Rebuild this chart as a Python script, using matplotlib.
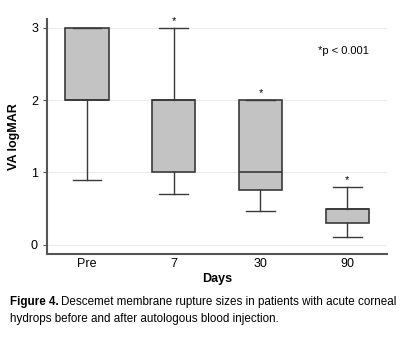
import matplotlib
matplotlib.use("Agg")
import matplotlib.pyplot as plt

plt.rcParams["font.family"] = ["Liberation Sans", "DejaVu Sans"]

# Valores (logMAR)
days = ["Pre", "7", "30", "90"]
q1 = [2.0, 1.0, 0.75, 0.3]
med = [2.0, 2.0, 1.0, 0.5]
q3 = [3.0, 2.0, 2.0, 0.5]
whislo = [0.9, 0.7, 0.46, 0.1]
whishi = [3.0, 3.0, 2.0, 0.8]
signif = [False, True, True, True]

stats = []
for i in range(len(days)):
    stats.append(dict(label=days[i], q1=q1[i], med=med[i], q3=q3[i],
                      whislo=whislo[i], whishi=whishi[i], fliers=[]))

fig = plt.figure(figsize=(4.05, 3.38), dpi=100)
ax = fig.add_axes([0.116, 0.2485, 0.840, 0.6955])

dark = "#3a3a3a"
ax.bxp(stats, positions=range(1, 5), widths=0.5, patch_artist=True,
       showfliers=False,
       boxprops=dict(facecolor="#c3c3c3", edgecolor=dark, linewidth=1.2),
       medianprops=dict(color=dark, linewidth=1.2),
       whiskerprops=dict(color=dark, linewidth=1.0),
       capprops=dict(color=dark, linewidth=1.0),
       capwidths=0.33)

# asteriscos sobre los bigotes
for i in range(len(days)):
    if signif[i]:
        ax.text(i + 1, whishi[i] + 0.03, "*", ha="center", va="bottom", fontsize=8)

ax.text(0.87, 0.85, "*p < 0.001", transform=ax.transAxes, ha="center",
        fontsize=8)

ax.set_xlim(0.54, 4.46)
ax.set_ylim(-0.13, 3.125)
ax.set_yticks([0, 1, 2, 3])
ax.yaxis.grid(True, color="#ececec", linewidth=0.8)
ax.set_axisbelow(True)
for s in ["top", "right"]:
    ax.spines[s].set_visible(False)
ax.spines["left"].set_color("#555555")
ax.spines["bottom"].set_color("#555555")
ax.spines["left"].set_linewidth(1.5)
ax.spines["bottom"].set_linewidth(1.5)
ax.tick_params(axis="y", length=3, color="#555555", labelsize=9)
ax.tick_params(axis="x", length=0, labelsize=9, pad=3)
ax.set_xlabel("Days", fontsize=9, fontweight="bold", labelpad=2)
ax.set_ylabel("VA logMAR", fontsize=9, fontweight="bold", labelpad=8)

# pie de figura
t1 = fig.text(10 / 405, 1 - 302 / 338, "Figure 4.", fontsize=8.4,
              fontweight="bold", va="center")
fig.canvas.draw()
bb = t1.get_window_extent()
fig.text((bb.x1 + 2) / 405, 1 - 302 / 338,
         "Descemet membrane rupture sizes in patients with acute corneal",
         fontsize=8.4, va="center")
fig.text(10 / 405, 1 - 319 / 338,
         "hydrops before and after autologous blood injection.",
         fontsize=8.4, va="center")

fig.savefig("out.png", dpi=100)
